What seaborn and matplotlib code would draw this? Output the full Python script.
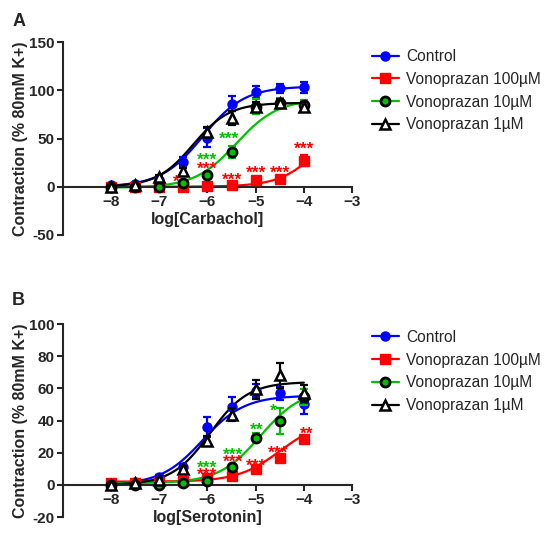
import numpy as np
import pandas as pd
import matplotlib
matplotlib.use('Agg')
import matplotlib.pyplot as plt
import seaborn as sns

sns.set_style('ticks')
plt.rcParams['font.family'] = ['Liberation Sans', 'DejaVu Sans']

# data
log_conc = [-8, -7.5, -7, -6.5, -6, -5.5, -5, -4.5, -4]
groups = ['Control', 'Vonoprazan 100µM', 'Vonoprazan 10µM', 'Vonoprazan 1µM']

# panel A - carbachol
carb_control = [2, 3, 7, 26, 51, 86, 98, 102, 103]
carb_control_err = [1, 1, 2, 5, 10, 8, 6, 5, 6]
carb_v100 = [0, 0, 0, 0, 0.5, 1.5, 7, 8, 27]
carb_v100_err = [0.5, 0.5, 0.5, 0.5, 0.5, 1, 1, 1.5, 6]
carb_v10 = [0, 0, 0, 4, 12.5, 36, 83, 87, 85]
carb_v10_err = [0.5, 0.5, 1, 1, 2, 6, 8, 5, 5]
carb_v1 = [0, 2, 10, 16, 57, 71, 83, 87, 83]
carb_v1_err = [1, 1, 2, 3, 5, 7, 5, 4, 5]

# fitted curves: bottom, top, logEC50, hill
carb_fit_control = [0, 104, -6.1, 1.0]
carb_fit_v100 = [0, 100, -3.5, 1.0]
carb_fit_v10 = [-1, 91, -5.4, 1.0]
carb_fit_v1 = [0, 87, -6.3, 1.15]

# panel B - serotonin
sero_control = [1, 2, 5, 11, 36, 48.5, 58.5, 57, 50]
sero_control_err = [1, 1, 1, 2, 6, 6, 4, 4, 6]
sero_v100 = [1, 1, 1.5, 2.5, 4, 5.2, 10, 16.6, 28.4]
sero_v100_err = [0.5, 0.5, 0.5, 1, 1, 1, 1, 1.5, 2]
sero_v10 = [0, 0, 0, 1, 2.5, 11.4, 29.4, 39.7, 54.5]
sero_v10_err = [0.5, 0.5, 0.5, 1, 1, 1.5, 3, 8, 5]
sero_v1 = [0, 1, 3, 10, 27.5, 43.5, 59.4, 68, 57]
sero_v1_err = [0.5, 0.5, 1, 2, 3, 4, 6, 8, 5]

sero_fit_control = [0, 55.5, -6.1, 1.0]
sero_fit_v100 = [2, 40, -4.5, 1.0]
sero_fit_v10 = [1, 60, -4.9, 1.0]
sero_fit_v1 = [0, 64, -5.95, 1.1]

# significance labels
carb_stars = [(-5.55, 55, '***', 'g'), (-6.0, 33, '***', 'g'), (-6.0, 24, '***', 'r'),
              (-6.65, 10, '*', 'r'), (-5.5, 12.5, '***', 'r'), (-5.0, 19, '***', 'r'),
              (-4.5, 19, '***', 'r'), (-4.0, 44, '***', 'r')]
sero_stars = [(-6.0, 13.5, '***', 'g'), (-6.0, 8.9, '***', 'r'), (-5.47, 21.7, '***', 'g'),
              (-5.47, 17, '***', 'r'), (-5.0, 14.5, '***', 'r'), (-4.97, 37, '**', 'g'),
              (-4.64, 49, '*', 'g'), (-4.53, 22.8, '***', 'r'), (-3.94, 35, '**', 'r')]

colors = {'Control': '#0000ff', 'Vonoprazan 100µM': '#ff0000',
          'Vonoprazan 10µM': '#00c000', 'Vonoprazan 1µM': '#000000'}
star_col = {'g': '#00c000', 'r': '#ff0000'}
marker_kw = {
    'Control': dict(marker='o', mfc='#0000ff', mec='#0000ff', ms=6.5),
    'Vonoprazan 100µM': dict(marker='s', mfc='#ff0000', mec='#ff0000', ms=6.5),
    'Vonoprazan 10µM': dict(marker='o', mfc='#00c000', mec='#000000', ms=6.5, mew=2),
    'Vonoprazan 1µM': dict(marker='^', mfc='white', mec='#000000', ms=7, mew=1.8),
}


def hill(x, p):
    b, t, ec, h = p
    return b + (t - b) / (1 + 10 ** ((ec - x) * h))


def draw_panel(ax, means, errs, fits, stars, yticks, xlabel):
    xs = np.linspace(-8, -4, 300)
    curves = pd.concat([pd.DataFrame({'x': xs, 'y': hill(xs, p), 'group': g})
                        for g, p in zip(groups, fits)])
    sns.lineplot(data=curves, x='x', y='y', hue='group', palette=colors,
                 linewidth=1.6, legend=False, ax=ax, zorder=2)
    for i, g in enumerate(groups):
        ax.errorbar(log_conc, means[i], yerr=errs[i], fmt='none', ecolor=colors[g],
                    elinewidth=1.6, capsize=3, capthick=1.6, zorder=3 + i)
        ax.plot(log_conc, means[i], linestyle='none', zorder=3 + i, **marker_kw[g])
    for x, y, s, c in stars:
        ax.annotate(s, (x, y), xytext=(0, -7), textcoords='offset points',
                    ha='center', va='baseline', color=star_col[c], fontsize=12.5,
                    fontweight='bold')
    ax.set_xlim(-9, -3)
    ax.set_ylim(yticks[0], yticks[-1])
    ax.set_xticks([-8, -7, -6, -5, -4, -3])
    ax.set_yticks(yticks)
    ax.set_yticklabels([str(v) for v in yticks])
    ax.spines['bottom'].set_position(('data', 0))
    ax.spines['top'].set_visible(False)
    ax.spines['right'].set_visible(False)
    for sp in ['left', 'bottom']:
        ax.spines[sp].set_linewidth(1.5)
    ax.tick_params(width=1.5, length=4, labelsize=11, pad=2)
    for lab in ax.get_xticklabels() + ax.get_yticklabels():
        lab.set_fontweight('bold')
    ax.set_xlabel(xlabel, fontsize=11.5, fontweight='bold', labelpad=2)
    ax.set_ylabel('Contraction (% 80mM K+)', fontsize=11.5, fontweight='bold', labelpad=1)


fig = plt.figure(figsize=(5.5, 5.38), dpi=100)
ax1 = fig.add_axes([0.1145, 0.5632, 0.5255, 0.3587])
ax2 = fig.add_axes([0.1145, 0.039, 0.5255, 0.3587])

draw_panel(ax1, [carb_control, carb_v100, carb_v10, carb_v1],
           [carb_control_err, carb_v100_err, carb_v10_err, carb_v1_err],
           [carb_fit_control, carb_fit_v100, carb_fit_v10, carb_fit_v1],
           carb_stars, [-50, 0, 50, 100, 150], 'log[Carbachol]')
draw_panel(ax2, [sero_control, sero_v100, sero_v10, sero_v1],
           [sero_control_err, sero_v100_err, sero_v10_err, sero_v1_err],
           [sero_fit_control, sero_fit_v100, sero_fit_v10, sero_fit_v1],
           sero_stars, [-20, 0, 20, 40, 60, 80, 100], 'log[Serotonin]')

for ax, top in [(ax1, 0.909), (ax2, 0.387)]:
    handles = [plt.Line2D([], [], color=colors[g], linewidth=1.6, **marker_kw[g]) for g in groups]
    ax.legend(handles, groups, loc='upper left', bbox_to_anchor=(0.676, top),
              bbox_transform=fig.transFigure, frameon=False, fontsize=11.2,
              handlelength=1.75, handletextpad=0.45, labelspacing=0.5,
              borderpad=0, borderaxespad=0)

fig.text(0.022, 0.96, 'A', fontsize=13, fontweight='bold', va='center')
fig.text(0.022, 0.441, 'B', fontsize=13, fontweight='bold', va='center')

fig.savefig('out.png', dpi=100)
